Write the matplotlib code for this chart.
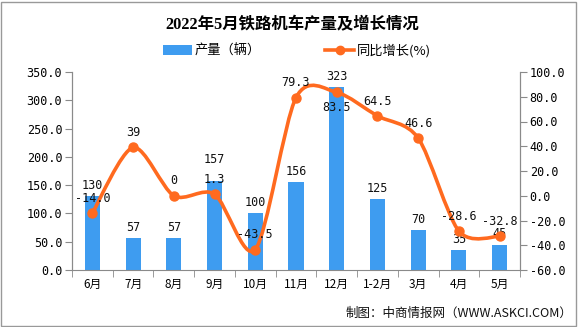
import matplotlib
matplotlib.use('Agg')
import matplotlib.pyplot as plt
from matplotlib.path import Path
from matplotlib.patches import PathPatch, Patch, Rectangle
from matplotlib.lines import Line2D
import numpy as np

categories = ['6月', '7月', '8月', '9月', '10月', '11月', '12月', '1-2月', '3月', '4月', '5月']
output = [130, 57, 57, 157, 100, 156, 323, 125, 70, 35, 45]
growth = [-14.0, 39.0, 0.0, 1.3, -43.5, 79.3, 83.5, 64.5, 46.6, -28.6, -32.8]
growth_labels = ['-14.0', '39', '0', '1.3', '-43.5', '79.3', '83.5', '64.5', '46.6', '-28.6', '-32.8']
left_ticks = [0, 50, 100, 150, 200, 250, 300, 350]
right_ticks = [-60, -40, -20, 0, 20, 40, 60, 80, 100]

CJK = ['Noto Sans CJK SC', 'DejaVu Sans']
MONO = ['DejaVu Sans Mono', 'Noto Sans CJK SC']
BLUE = '#3E9CF0'
ORANGE = '#FF6A1F'
AXC = '#8a8a8a'

W, H = 585, 327
fig = plt.figure(figsize=(W / 100, H / 100), dpi=100)
fig.patch.set_facecolor('white')
ax = fig.add_axes([72 / W, 1 - 270 / H, (520 - 72) / W, (270 - 72) / H])
ax2 = ax.twinx()

x = np.arange(len(categories))
ax.bar(x, output, width=0.37, color=BLUE, zorder=2)
ax.set_xlim(-0.5, len(categories) - 0.5)
ax.set_ylim(0, 350)
ax.set_yticks(left_ticks)
ax.set_yticklabels(['%.1f' % t for t in left_ticks], family=MONO, fontsize=8.5)
ax.set_xticks(x)
ax.set_xticklabels(categories, family=CJK, fontsize=8.5)
ax.set_xticks(np.arange(-0.5, len(categories)), minor=True)
ax.tick_params(axis='x', which='major', length=0, pad=6)
ax.tick_params(axis='x', which='minor', length=5, color=AXC)
ax.tick_params(axis='y', length=5, color=AXC, pad=2)

ax2.set_ylim(-60, 100)
ax2.set_yticks(right_ticks)
ax2.set_yticklabels(['%.1f' % t for t in right_ticks], family=MONO, fontsize=8.5)
ax2.tick_params(axis='y', length=5, color=AXC, pad=2)

for a in (ax, ax2):
    a.spines['top'].set_visible(False)
    for s in ('left', 'right', 'bottom'):
        a.spines[s].set_color(AXC)
ax2.spines['bottom'].set_visible(False)

# bar labels (9月 label lifted to clear the line label, as in the reference)
for xi, v in zip(x, output):
    off = 11 if xi == 3 else 3
    ax.annotate(str(v), (xi, v), xytext=(0, off), textcoords='offset points',
                ha='center', va='bottom', family=MONO, fontsize=8.5, color='#111', zorder=3)

# smooth line via Catmull-Rom bezier in data coords
pts = list(zip(x.astype(float), growth))
verts = [pts[0]]
codes = [Path.MOVETO]
n = len(pts)
k = 7.0
for i in range(n - 1):
    p0 = pts[i - 1] if i > 0 else pts[i]
    p1 = pts[i]
    p2 = pts[i + 1]
    p3 = pts[i + 2] if i + 2 < n else pts[i + 1]
    c1 = (p1[0] + (p2[0] - p0[0]) / k, p1[1] + (p2[1] - p0[1]) / k)
    c2 = (p2[0] - (p3[0] - p1[0]) / k, p2[1] - (p3[1] - p1[1]) / k)
    verts += [c1, c2, p2]
    codes += [Path.CURVE4] * 3
ax2.add_patch(PathPatch(Path(verts, codes), facecolor='none', edgecolor=ORANGE, lw=2.6, zorder=4))
ax2.plot(x, growth, linestyle='none', marker='o', ms=6.5, color=ORANGE, zorder=5)

for xi, v, lab in zip(x, growth, growth_labels):
    if lab == '83.5':
        ax2.annotate(lab, (xi, v), xytext=(0, -6), textcoords='offset points',
                     ha='center', va='top', family=MONO, fontsize=8.5, color='#111', zorder=6)
    else:
        ax2.annotate(lab, (xi, v), xytext=(0, 6), textcoords='offset points',
                     ha='center', va='bottom', family=MONO, fontsize=8.5, color='#111', zorder=6)

# title
fig.text(0.5, 1 - 25 / H, '2022年5月铁路机车产量及增长情况', ha='center', va='center',
         fontsize=11.8, fontweight='bold', family=['Liberation Serif', 'Noto Sans CJK SC'])

# legend
handles = [Patch(facecolor=BLUE, edgecolor='none'),
           Line2D([0], [0], color=ORANGE, lw=2.6, marker='o', ms=6)]
fig.legend(handles, ['产量（辆）', '同比增长(%)'], loc='center', bbox_to_anchor=(297 / W, 1 - 51 / H),
           ncol=2, frameon=False, prop={'family': CJK, 'size': 9.5}, handlelength=2.2,
           handleheight=0.8, columnspacing=4.9, handletextpad=0.2)

# source
fig.text(572 / W, 1 - 313 / H, '制图：中商情报网（WWW.ASKCI.COM）', ha='right', va='center',
         fontsize=9, family=CJK, color='#111')

# border
fig.add_artist(Rectangle((1 / W, 1 / H), (576 - 1) / W, (325 - 1) / H, transform=fig.transFigure,
                         fill=False, edgecolor='#999999', lw=1))

fig.savefig('out.png', dpi=100)
